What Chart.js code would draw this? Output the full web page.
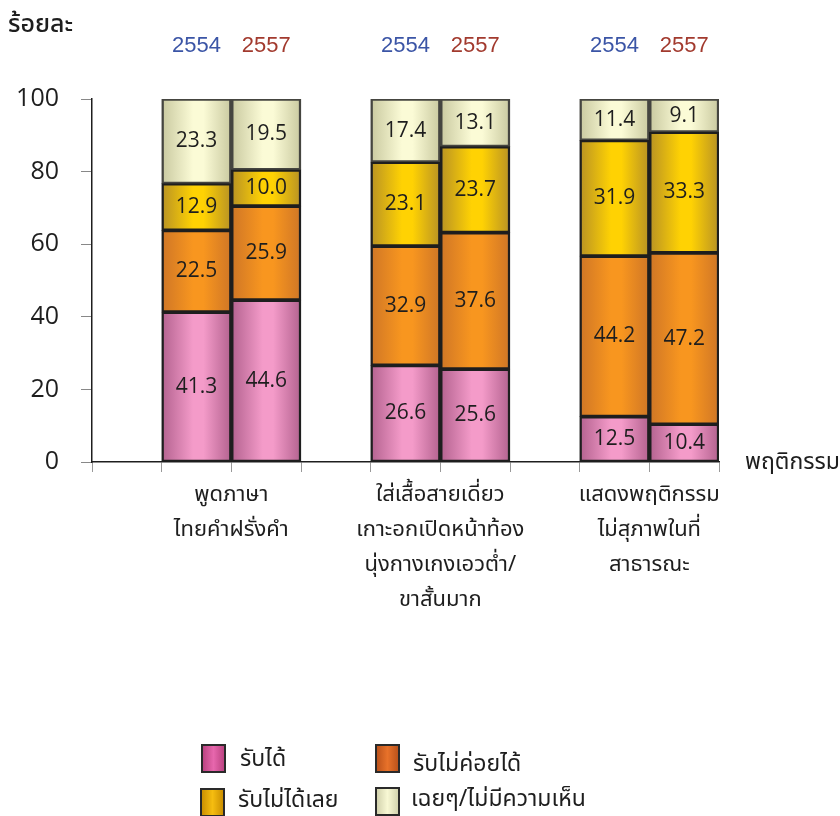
<!DOCTYPE html>
<html>
<head>
<meta charset="utf-8">
<script src="https://cdn.jsdelivr.net/npm/chart.js@4"></script>
<style>
  html, body { margin: 0; padding: 0; background: #fff; }
  #wrap { width: 840px; height: 816px; position: relative; }
</style>
</head>
<body>
<div id="wrap"><canvas id="chart" width="840" height="816"></canvas></div>
<script>
const groups = [
  ['พูดภาษา', 'ไทยคำฝรั่งคำ'],
  ['ใส่เสื้อสายเดี่ยว', 'เกาะอกเปิดหน้าท้อง', 'นุ่งกางเกงเอวต่ำ/', 'ขาสั้นมาก'],
  ['แสดงพฤติกรรม', 'ไม่สุภาพในที่', 'สาธารณะ']
];
const years = ['2554', '2557'];
const yearColors = ['#3b55a6', '#a23a2e'];

// values per bar: group1 2554, group1 2557, group2 2554, ...
const accepted = [41.3, 44.6, 26.6, 25.6, 12.5, 10.4];
const barelyAccepted = [22.5, 25.9, 32.9, 37.6, 44.2, 47.2];
const notAccepted = [12.9, 10.0, 23.1, 23.7, 31.9, 33.3];
const noOpinion = [23.3, 19.5, 17.4, 13.1, 11.4, 9.1];

const seriesNames = ['รับได้', 'รับไม่ค่อยได้', 'รับไม่ได้เลย', 'เฉยๆ/ไม่มีความเห็น'];
const yTicks = [0, 20, 40, 60, 80, 100];

const thaiFont = '"Noto Sans Thai", "Noto Sans", "DejaVu Sans", sans-serif';
const numFont = '"Open Sans", "Noto Sans", sans-serif';

// bar gradients: [edge, middle]
const barShades = [
  ['#b3628f', '#f49bc9'],
  ['#cf7626', '#f8961f'],
  ['#b89224', '#ffd203'],
  ['#c9c9a0', '#fbfbd6']
];
const legendShades = [
  ['#b8407e', '#e767ad'],
  ['#b8501a', '#e8722a'],
  ['#c88c00', '#f6bd10'],
  ['#cfcfaa', '#f8f8d4']
];
const borderColors = ['#1e1e1e', '#1e1e1e', '#1e1e1e', '#454540'];

// 9 slots: spacer, 2554, 2557 for each group
const slotLabels = [];
const slotIndex = [];
groups.forEach((g, gi) => {
  slotLabels.push('');
  slotIndex.push(null);
  years.forEach((y, yi) => {
    slotLabels.push(g.join(' ') + ' ' + y);
    slotIndex.push(gi * years.length + yi);
  });
});
const toSlots = arr => slotIndex.map(i => i === null ? null : arr[i]);

function gradientFor(ctx, shades) {
  const chart = ctx.chart;
  const xs = chart.scales && chart.scales.x;
  if (!xs || xs.width === undefined) return shades[1];
  const c = xs.getPixelForValue(ctx.dataIndex);
  const w = xs.width / slotLabels.length;
  const g = chart.ctx.createLinearGradient(c - w / 2, 0, c + w / 2, 0);
  g.addColorStop(0, shades[0]);
  g.addColorStop(0.45, shades[1]);
  g.addColorStop(0.6, shades[1]);
  g.addColorStop(1, shades[0]);
  return g;
}

const seriesValues = [accepted, barelyAccepted, notAccepted, noOpinion];
const datasets = seriesValues.map((vals, si) => ({
  label: seriesNames[si],
  data: toSlots(vals),
  backgroundColor: ctx => gradientFor(ctx, barShades[si]),
  borderColor: borderColors[si],
  borderWidth: { left: 2.5, right: 2.5, top: 2.2, bottom: 2.2 },
  borderSkipped: false,
  barPercentage: 1,
  categoryPercentage: 1
}));

const decorations = {
  id: 'decorations',
  afterDatasetsDraw(chart) {
    const c = chart.ctx;
    const xs = chart.scales.x;
    c.save();
    // segment values
    c.fillStyle = '#1e1e1e';
    c.font = '21px ' + numFont;
    c.textAlign = 'center';
    c.textBaseline = 'middle';
    chart.data.datasets.forEach((ds, di) => {
      const meta = chart.getDatasetMeta(di);
      meta.data.forEach((bar, i) => {
        const v = ds.data[i];
        if (v === null) return;
        c.fillText(v.toFixed(1), bar.x, (bar.y + bar.base) / 2);
      });
    });
    // year labels on top
    c.font = '22px "Liberation Sans Narrow", "Liberation Sans", sans-serif';
    slotIndex.forEach((idx, slot) => {
      if (idx === null) return;
      const yi = idx % years.length;
      c.fillStyle = yearColors[yi];
      c.fillText(years[yi], xs.getPixelForValue(slot), 46);
    });
    // group labels below axis
    c.fillStyle = '#1e1e1e';
    c.font = '22px ' + thaiFont;
    groups.forEach((lines, gi) => {
      const cx = (xs.getPixelForValue(gi * 3 + 1) + xs.getPixelForValue(gi * 3 + 2)) / 2;
      lines.forEach((t, li) => c.fillText(t, cx, 497 + li * 35));
    });
    // axis titles
    c.textAlign = 'left';
    c.font = '500 25px ' + thaiFont;
    c.fillText('ร้อยละ', 8, 27);
    c.font = '23px ' + thaiFont;
    c.fillText('พฤติกรรม', 745, 464);
    // legend
    const items = [
      { box: [202, 745], text: [240, 761] },
      { box: [376, 745], text: [413, 766] },
      { box: [201, 789], text: [238, 802] },
      { box: [376, 788], text: [411, 801] }
    ];
    items.forEach((it, i) => {
      const [bx, by] = it.box;
      const g = c.createLinearGradient(bx, 0, bx + 23, 0);
      g.addColorStop(0, legendShades[i][0]);
      g.addColorStop(0.5, legendShades[i][1]);
      g.addColorStop(1, legendShades[i][0]);
      c.fillStyle = g;
      c.fillRect(bx, by, 23, 27);
      c.strokeStyle = '#2a2a2a';
      c.lineWidth = 2;
      c.strokeRect(bx, by, 23, 27);
      c.fillStyle = '#1e1e1e';
      c.font = '23px ' + thaiFont;
      c.textBaseline = 'middle';
      c.fillText(seriesNames[i], it.text[0], it.text[1]);
    });
    c.restore();
  }
};

new Chart(document.getElementById('chart'), {
  type: 'bar',
  data: { labels: slotLabels, datasets },
  options: {
    responsive: false,
    animation: false,
    layout: { padding: { top: 99, right: 121, bottom: 0, left: 0 } },
    plugins: {
      legend: { display: false },
      tooltip: { enabled: false }
    },
    scales: {
      x: {
        stacked: true,
        offset: true,
        ticks: { display: false },
        grid: {
          offset: true,
          drawOnChartArea: false,
          tickLength: 10,
          color: '#999'
        },
        border: { color: '#1e1e1e', width: 1.5 },
        afterFit(s) { s.height = 354; }
      },
      y: {
        stacked: true,
        min: 0,
        max: 100,
        afterBuildTicks(s) { s.ticks = yTicks.map(v => ({ value: v })); },
        ticks: {
          color: '#1e1e1e',
          padding: 22,
          font: { size: 25, family: numFont }
        },
        grid: {
          drawOnChartArea: false,
          tickLength: 11,
          color: '#888'
        },
        border: { color: '#1e1e1e', width: 1.5 },
        afterFit(s) { s.width = 92; }
      }
    }
  },
  plugins: [decorations]
});
</script>
</body>
</html>
